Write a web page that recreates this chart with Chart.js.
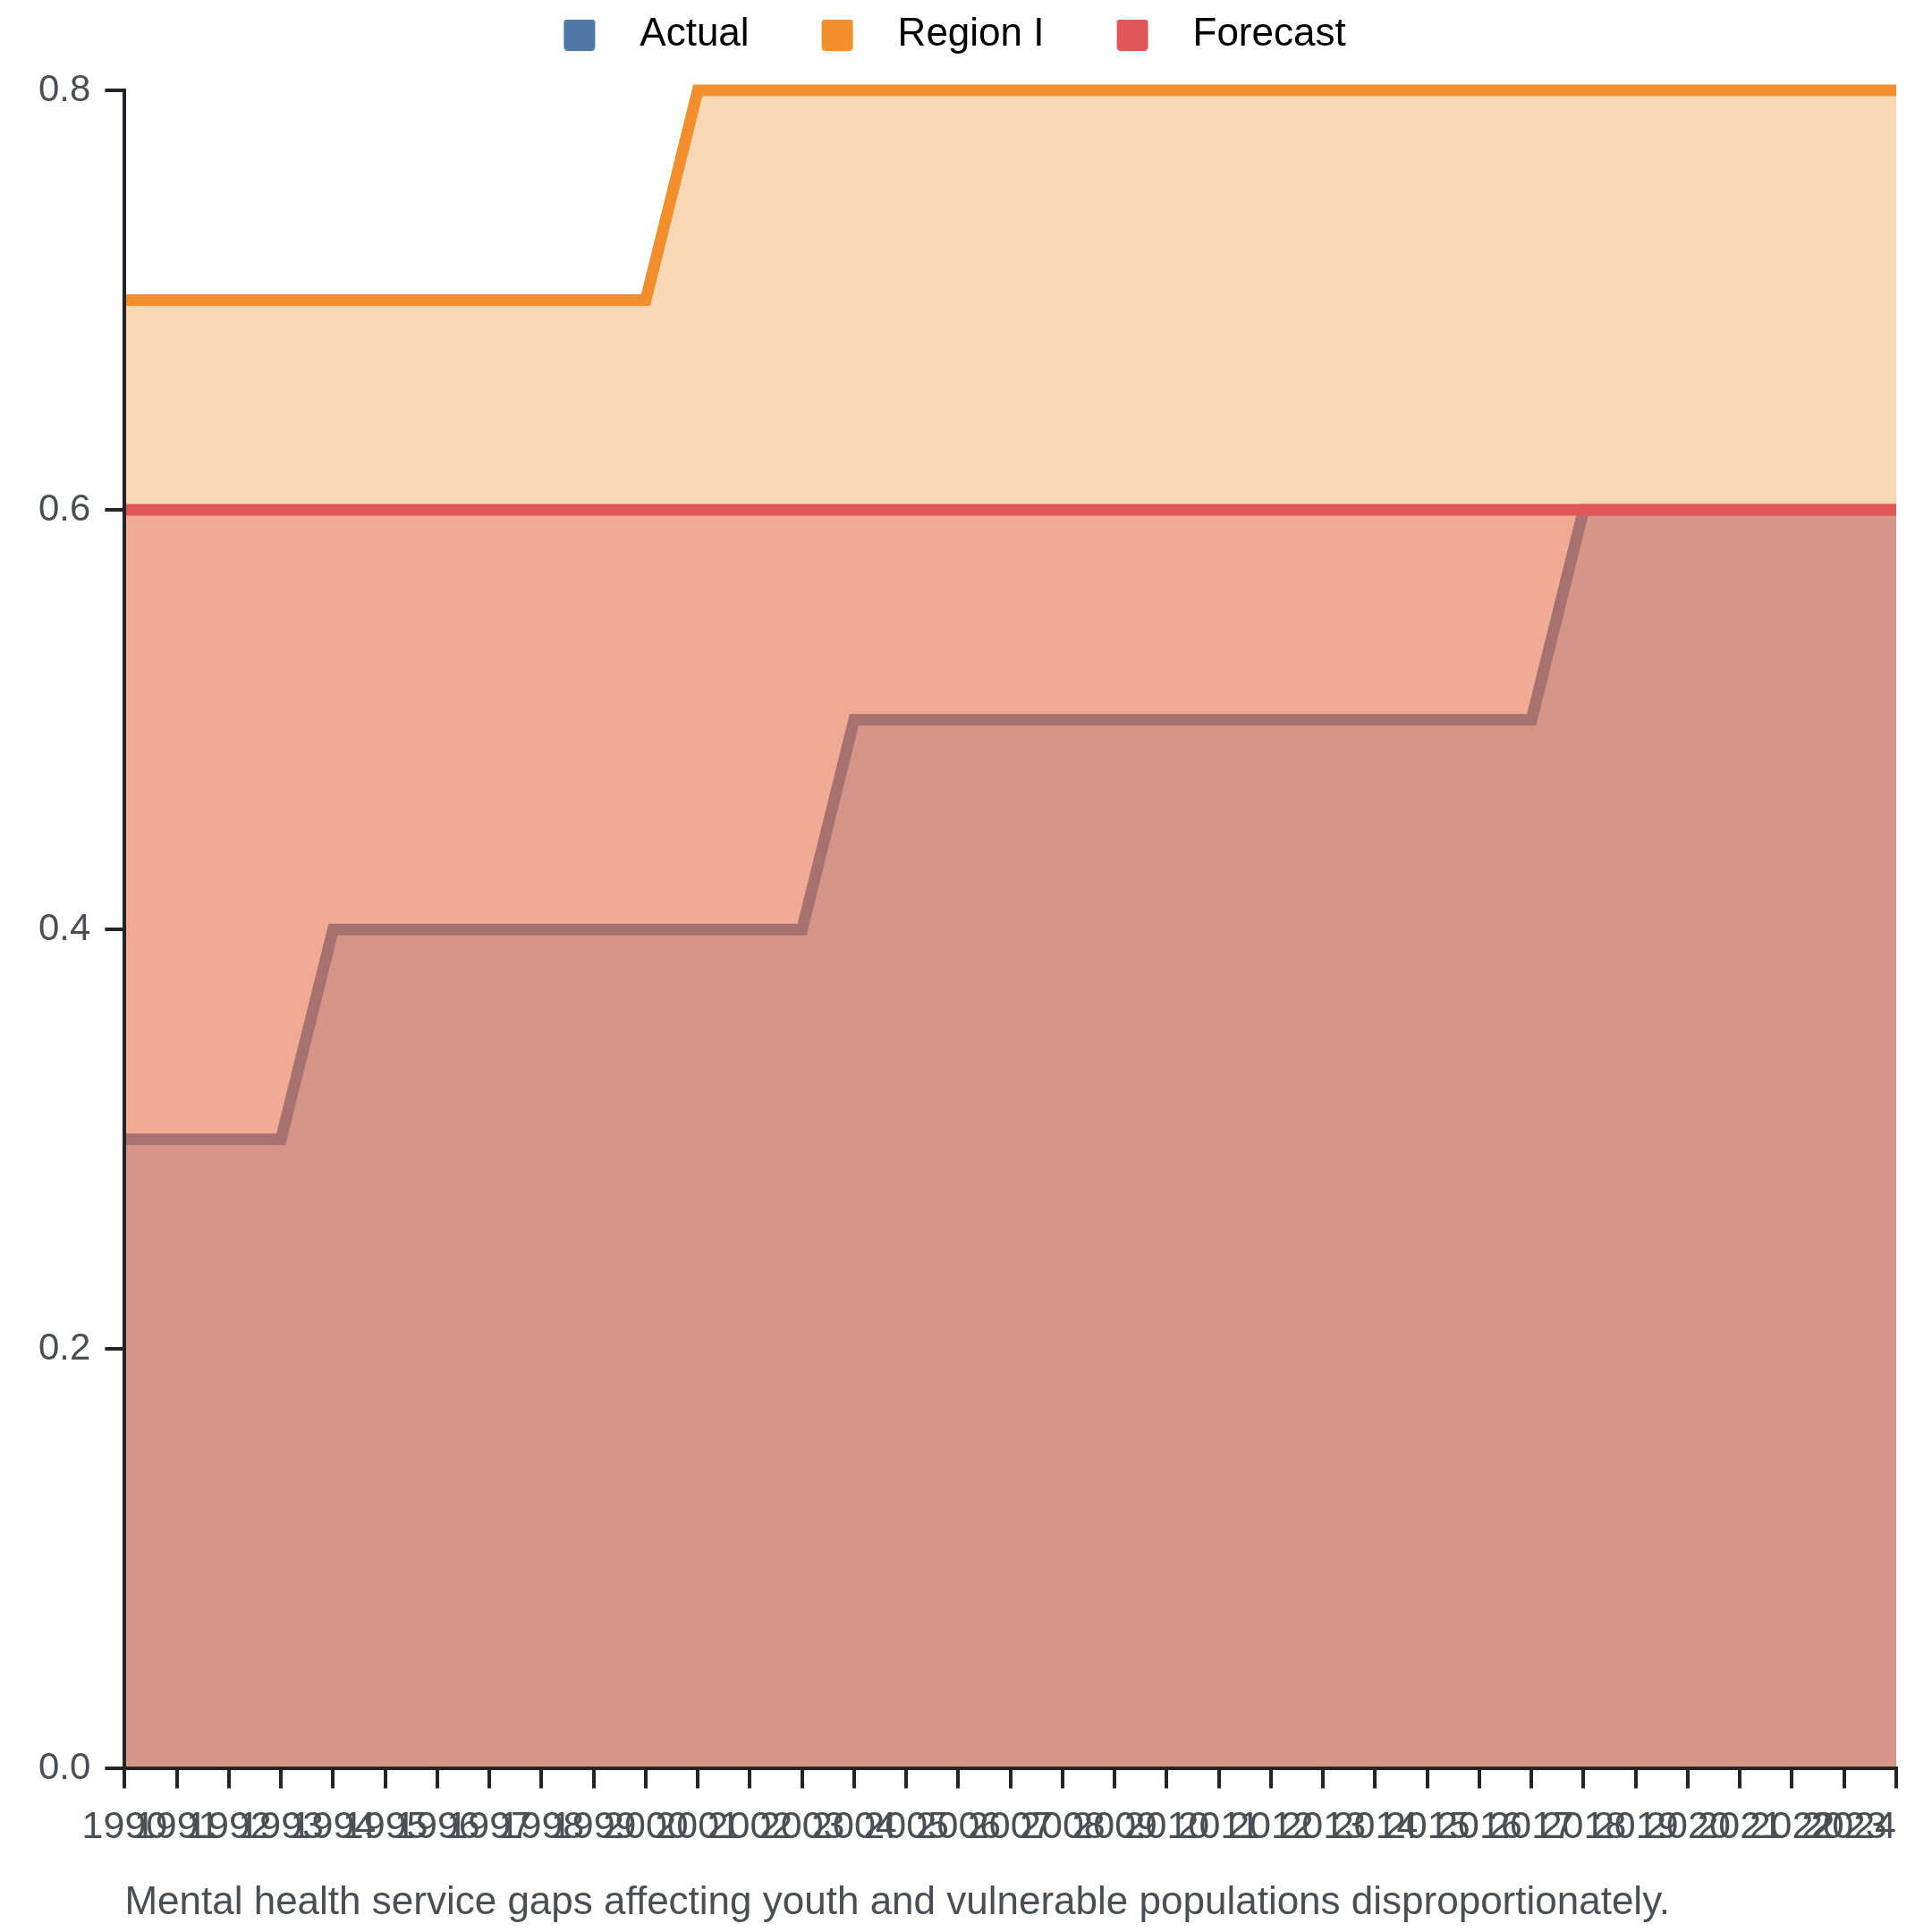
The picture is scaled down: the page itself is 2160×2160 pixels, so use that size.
<!DOCTYPE html>
<html>
<head>
<meta charset="utf-8">
<script src="https://cdn.jsdelivr.net/npm/chart.js@4.4.1/dist/chart.umd.min.js"></script>
<style>
  html, body { margin: 0; padding: 0; background: #ffffff; }
  #wrap { width: 2160px; height: 2160px; }
</style>
</head>
<body>
<div id="wrap"><canvas id="c" width="2160" height="2160"></canvas></div>
<script>
const years = ["1990","1991","1992","1993","1994","1995","1996","1997","1998","1999","2000","2001","2002","2003","2004","2005","2006","2007","2008","2009","2010","2011","2012","2013","2014","2015","2016","2017","2018","2019","2020","2021","2022","2023","2024"];
const actual = [0.3,0.3,0.3,0.3,0.4,0.4,0.4,0.4,0.4,0.4,0.4,0.4,0.4,0.4,0.5,0.5,0.5,0.5,0.5,0.5,0.5,0.5,0.5,0.5,0.5,0.5,0.5,0.5,0.6,0.6,0.6,0.6,0.6,0.6,0.6];
const regionI = [0.7,0.7,0.7,0.7,0.7,0.7,0.7,0.7,0.7,0.7,0.7,0.8,0.8,0.8,0.8,0.8,0.8,0.8,0.8,0.8,0.8,0.8,0.8,0.8,0.8,0.8,0.8,0.8,0.8,0.8,0.8,0.8,0.8,0.8,0.8];
const forecast = [0.6,0.6,0.6,0.6,0.6,0.6,0.6,0.6,0.6,0.6,0.6,0.6,0.6,0.6,0.6,0.6,0.6,0.6,0.6,0.6,0.6,0.6,0.6,0.6,0.6,0.6,0.6,0.6,0.6,0.6,0.6,0.6,0.6,0.6,0.6];
const seriesNames = ["Actual", "Region I", "Forecast"];
const yTicks = [0, 0.2, 0.4, 0.6, 0.8];
const caption = "Mental health service gaps affecting youth and vulnerable populations disproportionately.";

const FONT = "'Liberation Sans', Arial, Helvetica, sans-serif";
const LEG_MARGIN = 64, LEG_BOX = 35, LEG_W = 127;

function legendSwatch(color) {
  const cv = document.createElement('canvas');
  cv.width = LEG_W; cv.height = LEG_BOX;
  const g = cv.getContext('2d');
  g.fillStyle = color;
  g.beginPath();
  if (g.roundRect) g.roundRect(LEG_MARGIN, 0, LEG_BOX, LEG_BOX, 4); else g.rect(LEG_MARGIN, 0, LEG_BOX, LEG_BOX);
  g.fill();
  return cv;
}

const colors = ['#4e79a7', '#f28e2b', '#e15759'];
const fills = ['rgba(78,121,167,0.37)', 'rgba(242,142,43,0.35)', 'rgba(225,87,89,0.35)'];
const swatches = colors.map(legendSwatch);

const captionPlugin = {
  id: 'captionPlugin',
  afterDraw(chart) {
    const ctx = chart.ctx;
    ctx.save();
    ctx.font = "44px " + FONT;
    ctx.fillStyle = '#4a4f55';
    ctx.textAlign = 'left';
    ctx.textBaseline = 'alphabetic';
    ctx.fillText(caption, chart.chartArea.left, 2140);
    ctx.restore();
  }
};

const lastLabelPlugin = {
  id: 'lastLabelPlugin',
  beforeDraw(chart) {
    const sx = chart.scales.x;
    try {
      const items = sx.getLabelItems(chart.chartArea);
      if (items && items.length) {
        items[items.length - 1].options.textAlign = 'right';
      }
    } catch (e) {}
  }
};

const legendTweak = {
  id: 'legendTweak',
  beforeLayout(chart) {
    const lg = chart.legend;
    if (lg && !lg._patched) {
      const origFit = lg.fit;
      lg.fit = function() { origFit.call(this); this.height += 30; };
      lg._patched = true;
    }
  },
  afterLayout(chart) {
    if (chart.legend) {
      chart.legend.left -= 58;
      chart.legend.right -= 58;
    }
  }
};

const ds = [actual, regionI, forecast].map((arr, i) => ({
  label: seriesNames[i],
  data: arr,
  borderColor: colors[i],
  backgroundColor: fills[i],
  borderWidth: 13,
  borderJoinStyle: 'miter',
  fill: 'origin',
  clip: false,
  pointRadius: 0,
  pointHoverRadius: 0,
  pointStyle: swatches[i],
  tension: 0,
  order: 2 - i
}));

new Chart(document.getElementById('c'), {
  type: 'line',
  data: { labels: years, datasets: ds },
  options: {
    responsive: false,
    devicePixelRatio: 1,
    animation: false,
    layout: { padding: { left: 27, right: 0, top: 0, bottom: 73 } },
    plugins: {
      legend: {
        display: true,
        position: 'top',
        align: 'center',
        labels: {
          usePointStyle: true,
          pointStyleWidth: LEG_W,
          boxHeight: LEG_BOX,
          padding: 17,
          color: '#222222',
          font: { family: FONT, size: 44 },
          generateLabels(chart) {
            return chart.data.datasets.map((d, i) => ({
              text: d.label,
              fillStyle: colors[i],
              strokeStyle: colors[i],
              lineWidth: 0,
              pointStyle: swatches[i],
              hidden: false,
              datasetIndex: i
            }));
          }
        }
      },
      title: { display: false },
      tooltip: { enabled: false }
    },
    scales: {
      x: {
        type: 'category',
        offset: false,
        border: { display: true, color: '#222428', width: 4, z: 1 },
        grid: { display: true, drawOnChartArea: false, drawTicks: true, tickLength: 22, color: '#222428', lineWidth: 4, z: 1 },
        ticks: {
          autoSkip: false,
          maxRotation: 0,
          minRotation: 0,
          padding: 18,
          color: '#4a4f55',
          font: { family: FONT, size: 43 }
        },
        afterFit(scale) { scale.paddingRight = 40; }
      },
      y: {
        min: 0,
        max: 0.8,
        border: { display: true, color: '#222428', width: 4, z: 1 },
        grid: { display: true, drawOnChartArea: false, drawTicks: true, tickLength: 22, color: '#222428', lineWidth: 4, z: 1 },
        afterBuildTicks(scale) { scale.ticks = yTicks.map(v => ({ value: v })); },
        ticks: {
          padding: 16,
          color: '#4a4f55',
          font: { family: FONT, size: 42 },
          callback: (v) => Number(v).toFixed(1)
        }
      }
    }
  },
  plugins: [captionPlugin, lastLabelPlugin, legendTweak]
});
</script>
</body>
</html>
